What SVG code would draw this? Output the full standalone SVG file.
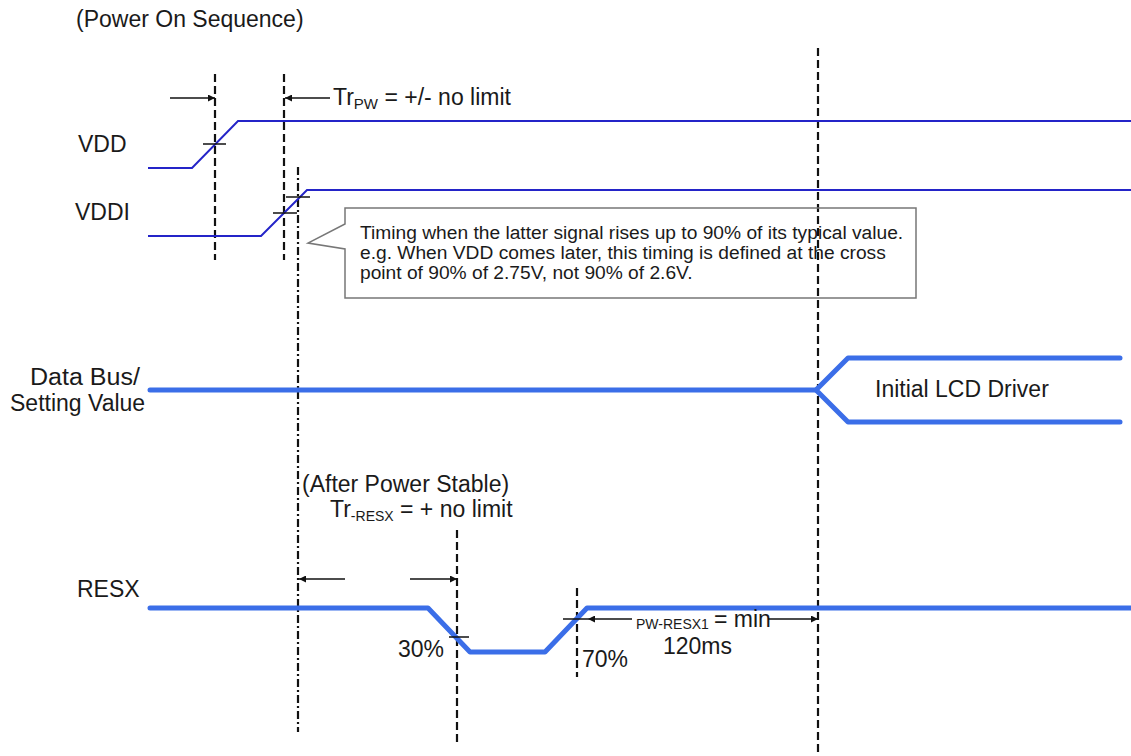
<svg xmlns="http://www.w3.org/2000/svg" width="1131" height="756" viewBox="0 0 1131 756">
<style>
text{font-family:"Liberation Sans",Arial,sans-serif;fill:#1a1a1a}
.lbl{font-size:23px}
.note{font-size:19.2px}
.sub{font-size:14px}
.thin{fill:none;stroke:#2424c8;stroke-width:2}
.thick{fill:none;stroke:#3b6ee8;stroke-width:5;stroke-linecap:round;stroke-linejoin:round}
.dash{fill:none;stroke:#111;stroke-width:2.2;stroke-dasharray:8 4}
.dashdot{fill:none;stroke:#111;stroke-width:2.2;stroke-dasharray:8 3 2 3}
.tick{fill:none;stroke:#111;stroke-width:1.5}
.arr{fill:none;stroke:#111;stroke-width:1.5}
</style>
<defs>
<marker id="ah" viewBox="0 0 10 10" refX="10" refY="5" markerWidth="9" markerHeight="7" markerUnits="userSpaceOnUse" orient="auto">
<path d="M0,0 L10,5 L0,10 z" fill="#111"/>
</marker>
</defs>
<rect width="1131" height="756" fill="#fff"/>
<text id="title" class="lbl" x="76" y="27">(Power On Sequence)</text>

<g id="guides">
<line class="dash" x1="215" y1="74" x2="215" y2="260"/>
<line class="dash" x1="284" y1="74" x2="284" y2="260"/>
<line class="dashdot" x1="298" y1="167" x2="298" y2="732"/>
<line class="dash" x1="818" y1="48" x2="818" y2="756"/>
<line class="dash" x1="457" y1="530" x2="457" y2="742"/>
<line class="dash" x1="577" y1="588" x2="577" y2="677"/>
</g>

<g id="vdd">
<text class="lbl" x="78" y="152">VDD</text>
<polyline class="thin" points="148,168 192,168 238,121 1131,121"/>
<line class="tick" x1="203" y1="144" x2="226" y2="144"/>
</g>

<g id="vddi">
<text class="lbl" x="75" y="220">VDDI</text>
<polyline class="thin" points="148,236 261,236 307,190 1131,190"/>
<line class="tick" x1="273" y1="213" x2="297" y2="213"/>
<line class="tick" x1="286" y1="197" x2="310" y2="197"/>
</g>

<g id="trpw">
<text class="lbl" x="333" y="105">Tr<tspan class="sub" dy="4" style="font-size:15px">PW</tspan><tspan dy="-4"> = +/- no limit</tspan></text>
</g>

<g id="note">
<polygon points="345,208 916,208 916,298 345,298 345,249 308,243 345,224" fill="none" stroke="#777" stroke-width="1.5"/>
<text class="note" x="360" y="239">Timing when the latter signal rises up to 90% of its typical value.</text>
<text class="note" x="360" y="259">e.g. When VDD comes later, this timing is defined at the cross</text>
<text class="note" x="360" y="279">point of 90% of 2.75V, not 90% of 2.6V.</text>
</g>

<g id="databus">
<text class="lbl" x="30" y="385" textLength="110" lengthAdjust="spacingAndGlyphs">Data Bus/</text>
<text class="lbl" x="10" y="411">Setting Value</text>
<polyline class="thick" points="150,390 816,390"/>
<polyline class="thick" points="1120,358 848,358 816,390 848,422 1120,422"/>
<text class="lbl" x="875" y="397">Initial LCD Driver</text>
</g>

<g id="resx">
<text class="lbl" x="77" y="597">RESX</text>
<polyline class="thick" points="150,608 428,608 470,652 545,652 587,608 1131,608"/>
<line class="tick" x1="449" y1="637" x2="469" y2="637"/>
<line class="tick" x1="563" y1="619" x2="588" y2="619"/>
<text class="lbl" x="398" y="657">30%</text>
<text class="lbl" x="582" y="667">70%</text>
<text class="lbl" x="302" y="492">(After Power Stable)</text>
<text class="lbl" x="330" y="517">Tr<tspan class="sub" dy="4">-RESX</tspan><tspan dy="-4"> = + no limit</tspan></text>
<text class="sub" x="636" y="629">PW-RESX1</text>
<text class="lbl" x="714" y="627">= min</text>
<text class="lbl" x="663" y="654">120ms</text>
</g>

<g id="connectors">
<line class="arr" x1="170" y1="98" x2="215" y2="98" marker-end="url(#ah)"/>
<line class="arr" x1="330" y1="98" x2="285" y2="98" marker-end="url(#ah)"/>
<line class="arr" x1="345" y1="579" x2="299" y2="579" marker-end="url(#ah)"/>
<line class="arr" x1="410" y1="579" x2="457" y2="579" marker-end="url(#ah)"/>
<line class="arr" x1="632" y1="619" x2="588" y2="619" marker-end="url(#ah)"/>
<line class="arr" x1="768" y1="619" x2="818" y2="619" marker-end="url(#ah)"/>
</g>
</svg>
